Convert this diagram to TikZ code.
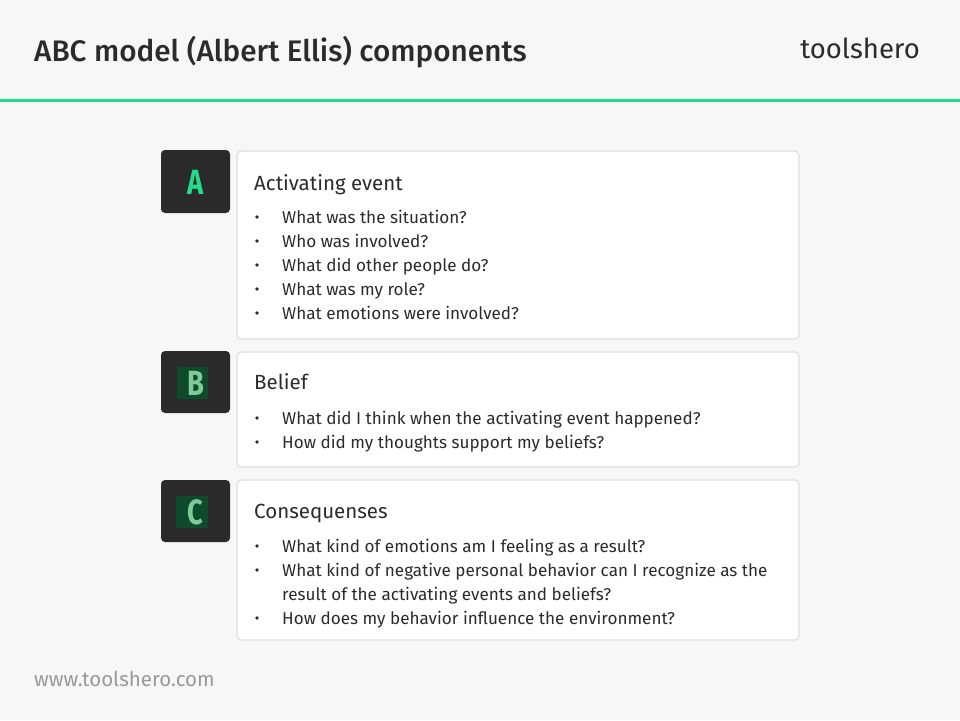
\documentclass[tikz,border=0pt]{standalone}
\usepackage{fontspec}
\setmainfont{Fira Sans}
\newfontfamily\titlefont{Fira Sans Medium}
\definecolor{bg}{HTML}{F7F7F7}
\definecolor{accent}{HTML}{22DC8C}
\definecolor{darkbox}{HTML}{2A2A2A}
\definecolor{boxline}{HTML}{DEDEDE}
\definecolor{txt}{HTML}{2B2B2B}
\definecolor{greyurl}{HTML}{999999}
\definecolor{lettergreen}{HTML}{22DC8C}
\definecolor{paleletter}{HTML}{7ECB98}
\definecolor{letterbg}{HTML}{0E4A2C}
\tikzset{
  lettersq/.style={fill=darkbox, rounded corners=4pt, draw=none},
  textbox/.style={fill=white, draw=boxline, line width=1.2pt, rounded corners=4pt},
  heading/.style={anchor=base west, font=\fontsize{20.5}{22}\selectfont, text=txt, inner sep=0pt},
  bulletitem/.style={anchor=base west, font=\fontsize{17.1}{24}\selectfont, text=txt, inner sep=0pt},
  bulletdot/.style={anchor=center, fill=txt, circle, inner sep=0pt, minimum size=3.6pt},
  letter/.style={anchor=center, font=\fontsize{35}{35}\selectfont\bfseries, inner sep=0pt, xscale=0.78}
}
\begin{document}
\begin{tikzpicture}[x=1pt,y=-1pt]
\fill[bg] (0,0) rectangle (960,720);
\useasboundingbox (0,0) rectangle (960,720);
% header
\node[anchor=base west, inner sep=0pt, text=txt, font=\titlefont\fontsize{29.7}{32}\selectfont] (title) at (34,61) {ABC model (Albert Ellis) components};
\node[anchor=base east, inner sep=0pt, text=txt, font=\fontsize{27.5}{30}\selectfont] (logo) at (920,58) {toolshero};
\fill[accent] (0,99) rectangle (960,101.5);
% A
\draw[lettersq] (161,150) rectangle (230,213);
\node[letter, text=lettergreen] (la) at (195.5,182) {A};
\draw[textbox] (237,151) rectangle (799,339);
\node[heading] (ha) at (254,190) {Activating event};
\foreach \t [count=\i] in {What was the situation?,Who was involved?,What did other people do?,What was my role?,What emotions were involved?}{
  \node[bulletdot] (da\i) at (257,217+24*\i-24) {};
  \node[bulletitem] (ta\i) at (282,223+24*\i-24) {\t};
}
% B
\draw[lettersq] (161,351) rectangle (230,413);
\fill[letterbg] (177,367) rectangle (208,399);
\node[letter, text=paleletter] (lb) at (195.5,383) {B};
\draw[textbox] (237,352) rectangle (799,467);
\node[heading] (hb) at (254,389) {Belief};
\node[bulletdot] (db1) at (257,418) {};
\node[bulletitem] (tb1) at (282,424) {What did I think when the activating event happened?};
\node[bulletdot] (db2) at (257,442) {};
\node[bulletitem] (tb2) at (282,448) {How did my thoughts support my beliefs?};
% C
\draw[lettersq] (161,480) rectangle (230,542);
\fill[letterbg] (176,496) rectangle (208,528);
\node[letter, text=paleletter] (lc) at (195.5,512) {C};
\draw[textbox] (237,480) rectangle (799,640);
\node[heading] (hc) at (254,518) {Consequenses};
\node[bulletdot] (dc1) at (257,546) {};
\node[bulletitem] (tc1) at (282,552) {What kind of emotions am I feeling as a result?};
\node[bulletdot] (dc2) at (257,570) {};
\node[bulletitem] (tc2) at (282,576) {What kind of negative personal behavior can I recognize as the};
\node[bulletitem] (tc2b) at (282,600) {result of the activating events and beliefs?};
\node[bulletdot] (dc3) at (257,618) {};
\node[bulletitem] (tc3) at (282,624) {How does my behavior influence the environment?};
% footer
\node[anchor=base west, inner sep=0pt, text=greyurl, font=\fontsize{20.5}{22}\selectfont] (url) at (34,686) {www.toolshero.com};
\end{tikzpicture}
\end{document}
